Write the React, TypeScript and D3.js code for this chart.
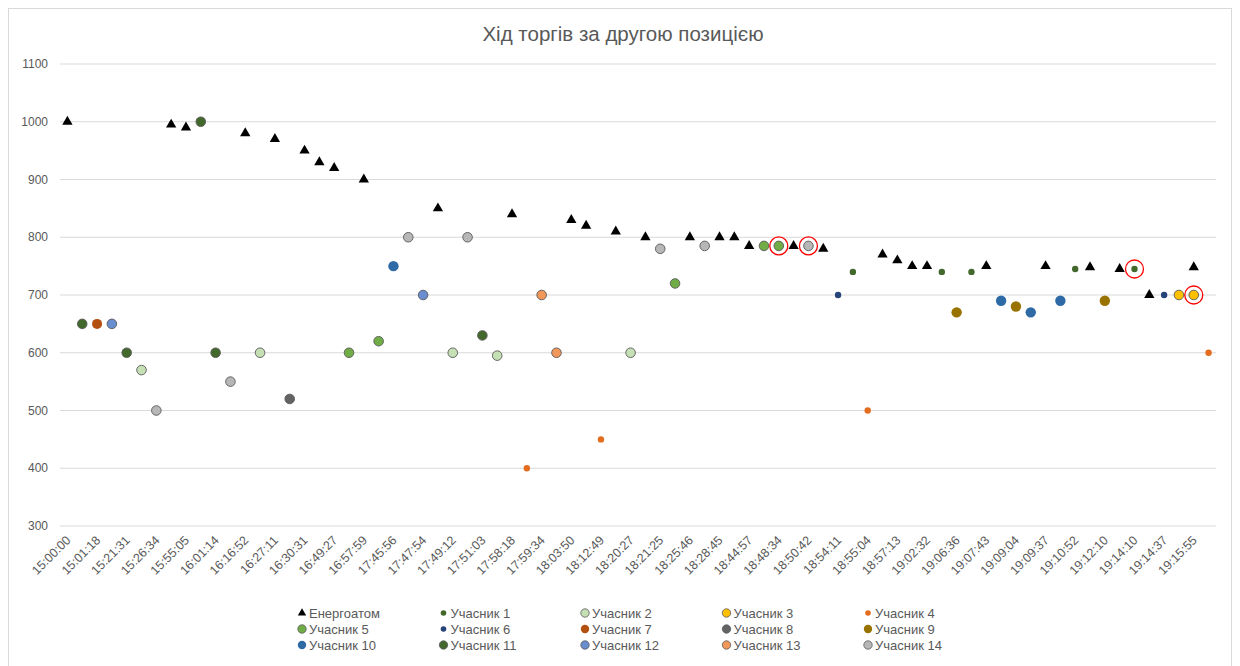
import React from "react";
import * as d3 from "d3";

// visible tick labels (every second category is labelled)
const tickLabels = [
  "15:00:00", "15:01:18", "15:21:31", "15:26:34", "15:55:05", "16:01:14", "16:16:52",
  "16:27:11", "16:30:31", "16:49:27", "16:57:59", "17:45:56", "17:47:54", "17:49:12",
  "17:51:03", "17:58:18", "17:59:34", "18:03:50", "18:12:49", "18:20:27", "18:21:25",
  "18:25:46", "18:28:45", "18:44:57", "18:48:34", "18:50:42", "18:54:11", "18:55:04",
  "18:57:13", "19:02:32", "19:06:36", "19:07:43", "19:09:04", "19:09:37", "19:10:52",
  "19:12:10", "19:14:10", "19:14:37", "19:15:55",
];
const categoryCount = 78;
const yTicks = [300, 400, 500, 600, 700, 800, 900, 1000, 1100];

// [category index, price]
const energoatom = [
  [0, 1000], [7, 995], [8, 990], [12, 980], [14, 970], [16, 950], [17, 930], [18, 920],
  [20, 900], [25, 850], [30, 840], [34, 830], [35, 820], [37, 810], [39, 800], [42, 800],
  [44, 800], [45, 800], [46, 785], [49, 785], [51, 780], [55, 770], [56, 760], [57, 750],
  [58, 750], [62, 750], [66, 750], [69, 748], [71, 745], [73, 700], [76, 748],
];
const u1 = [[53, 740], [59, 740], [61, 740], [68, 745], [72, 745]];
const u2 = [[5, 570], [13, 600], [26, 600], [29, 595], [38, 600]];
const u3 = [[75, 700], [76, 700]];
const u4 = [[31, 400], [36, 450], [54, 500], [77, 600]];
const u5 = [[19, 600], [21, 620], [41, 720], [47, 785], [48, 785]];
const u6 = [[52, 700], [74, 700]];
const u7 = [[2, 650]];
const u8 = [[15, 520]];
const u9 = [[60, 670], [64, 680], [70, 690]];
const u10 = [[22, 750], [63, 690], [65, 670], [67, 690]];
const u11 = [[1, 650], [4, 600], [9, 1000], [10, 600], [28, 630]];
const u12 = [[3, 650], [24, 700]];
const u13 = [[32, 700], [33, 600]];
const u14 = [[6, 500], [11, 550], [23, 800], [27, 800], [40, 780], [43, 785], [50, 785]];

// points marked with red rings
const highlighted = [[48, 785], [50, 785], [72, 745], [76, 700]];

type Series = { name: string; data: number[][]; color: string; r: number; border: boolean };

const participants: Series[] = [
  { name: "Учасник 1", data: u1, color: "#43682B", r: 3.2, border: false },
  { name: "Учасник 2", data: u2, color: "#C5E0B4", r: 4.8, border: true },
  { name: "Учасник 3", data: u3, color: "#FFC000", r: 4.8, border: true },
  { name: "Учасник 4", data: u4, color: "#E46C1F", r: 3.2, border: false },
  { name: "Учасник 5", data: u5, color: "#70AD47", r: 4.8, border: true },
  { name: "Учасник 6", data: u6, color: "#264478", r: 3.2, border: false },
  { name: "Учасник 7", data: u7, color: "#B4500F", r: 5, border: false },
  { name: "Учасник 8", data: u8, color: "#636363", r: 4.8, border: true },
  { name: "Учасник 9", data: u9, color: "#997300", r: 5.2, border: false },
  { name: "Учасник 10", data: u10, color: "#2E6AA6", r: 5.2, border: false },
  { name: "Учасник 11", data: u11, color: "#43682B", r: 4.8, border: true },
  { name: "Учасник 12", data: u12, color: "#698ED0", r: 4.8, border: true },
  { name: "Учасник 13", data: u13, color: "#F1975A", r: 4.8, border: true },
  { name: "Учасник 14", data: u14, color: "#B7B7B7", r: 4.8, border: true },
];

const W = 1240;
const H = 666;
const font = "'Liberation Sans', Arial, sans-serif";
const textColor = "#595959";

export default function App() {
  const x = d3.scaleBand<number>().domain(d3.range(categoryCount)).range([60, 1216]);
  const cx = (i: number) => (x(i) ?? 0) + x.bandwidth() / 2;
  const y = d3.scaleLinear().domain([300, 1100]).range([526, 64]);
  const tri = d3.symbol().type(d3.symbolTriangle).size(46)() ?? "";
  const triSmall = d3.symbol().type(d3.symbolTriangle).size(30)() ?? "";

  const legendItems = [
    { name: "Енергоатом", triangle: true } as any,
    ...participants,
  ];

  return (
    <svg
      width={W}
      height={H}
      style={{ position: "absolute", left: 0, top: 0, background: "#fff" }}
      fontFamily={font}
    >
      <rect x={8.5} y={8.5} width={1223} height={700} fill="#fff" stroke="#d9d9d9" />
      <text x={623} y={41} textAnchor="middle" fontSize={20.5} fill={textColor}>
        Хід торгів за другою позицією
      </text>

      {/* gridlines + y labels */}
      {yTicks.map((t) => (
        <g key={t}>
          <line x1={60} x2={1216} y1={y(t)} y2={y(t)} stroke="#d9d9d9" strokeWidth={1} />
          <text x={48} y={y(t)} dy="0.35em" textAnchor="end" fontSize={12} fill={textColor}>
            {t}
          </text>
        </g>
      ))}

      {/* x labels */}
      {tickLabels.map((lab, k) => {
        const px = cx(k * 2);
        return (
          <text
            key={lab}
            transform={`translate(${px + 4},${541}) rotate(-45)`}
            textAnchor="end"
            fontSize={12.5}
            fill={textColor}
          >
            {lab}
          </text>
        );
      })}

      {/* participants */}
      {participants.map((s) => (
        <g key={s.name}>
          {s.data.map(([i, v]) => (
            <circle
              key={i}
              cx={cx(i)}
              cy={y(v)}
              r={s.r}
              fill={s.color}
              stroke={s.border ? "#595959" : "none"}
              strokeWidth={0.9}
            />
          ))}
        </g>
      ))}

      {/* Енергоатом */}
      {energoatom.map(([i, v]) => (
        <path key={i} d={tri} transform={`translate(${cx(i)},${y(v)})`} fill="#000" />
      ))}

      {/* highlight rings */}
      {highlighted.map(([i, v]) => (
        <circle key={i} cx={cx(i)} cy={y(v)} r={9} fill="none" stroke="#FF0000" strokeWidth={1.3} />
      ))}

      {/* legend */}
      {legendItems.map((s, k) => {
        const col = k % 5;
        const row = Math.floor(k / 5);
        const lx = 302 + col * 141.5;
        const ly = 613 + row * 16;
        return (
          <g key={s.name} transform={`translate(${lx},${ly})`}>
            {s.triangle ? (
              <path d={triSmall} fill="#000" />
            ) : (
              <circle
                r={s.r < 4 ? 2.8 : 4.2}
                fill={s.color}
                stroke={s.border ? "#595959" : "none"}
                strokeWidth={0.8}
              />
            )}
            <text x={7} dy="0.35em" fontSize={13} fill={textColor}>
              {s.name}
            </text>
          </g>
        );
      })}
    </svg>
  );
}
